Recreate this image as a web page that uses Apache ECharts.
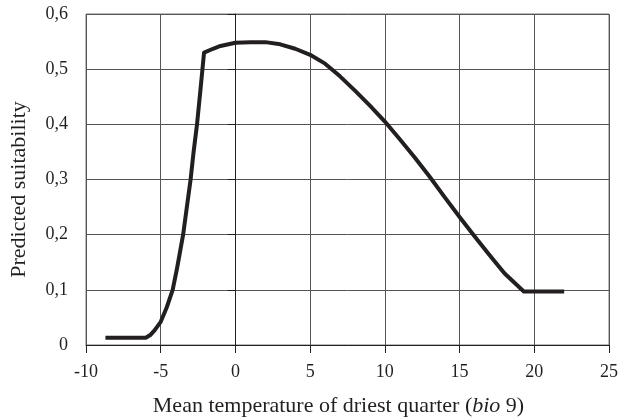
<!DOCTYPE html>
<html>
<head>
<meta charset="utf-8">
<script src="https://cdn.jsdelivr.net/npm/echarts@6/dist/echarts.min.js"></script>
<style>
  html, body { margin: 0; padding: 0; background: #fff; }
  #chart { width: 621px; height: 420px; }
</style>
</head>
<body>
<div id="chart"></div>
<script>
// temperature (x) and predicted suitability (y)
const temps = [-8.7, -6.0, -5.7, -5.4, -5.0, -4.6, -4.2, -3.9, -3.5, -3.25, -3.0, -2.8, -2.57, -2.35, -2.1,
  -1.5, -1, 0, 1, 2, 3, 4, 5, 6, 7, 8, 9, 10, 11, 12, 13, 14, 15, 16, 17, 18, 19.3, 22];
const suitability = [0.013, 0.013, 0.018, 0.027, 0.042, 0.068, 0.10, 0.14, 0.20, 0.25, 0.30, 0.35, 0.40, 0.46, 0.53,
  0.537, 0.542, 0.548, 0.549, 0.549, 0.545, 0.537, 0.526, 0.51, 0.487, 0.461, 0.434, 0.405, 0.373, 0.34, 0.305,
  0.268, 0.232, 0.197, 0.163, 0.13, 0.097, 0.097];

const chart = echarts.init(document.getElementById('chart'));
const font = 'Liberation Serif';

chart.setOption({
  animation: false,
  grid: {
    left: 86, right: 12, top: 14, bottom: 75,
    outerBoundsMode: 'none',
    containLabel: false,
    show: true, borderColor: '#777', borderWidth: 1
  },
  xAxis: {
    type: 'value',
    min: -10, max: 25, interval: 5,
    name: '{n|Mean temperature of driest quarter (}{i|bio}{n| 9)}',
    nameLocation: 'middle',
    nameGap: 50,
    nameTextStyle: {
      padding: [0, 18, 0, 0],
      rich: {
        n: { fontFamily: font, fontSize: 22, color: '#231f20' },
        i: { fontFamily: font, fontSize: 22, fontStyle: 'italic', color: '#231f20' }
      }
    },
    axisLine: { show: true, onZero: false, lineStyle: { color: '#231f20', width: 1 } },
    axisTick: { show: true, inside: false, length: 8, lineStyle: { color: '#231f20' } },
    axisLabel: { fontFamily: font, fontSize: 18, color: '#231f20', margin: 18 },
    splitLine: { show: true, lineStyle: { color: '#555', width: 1 } }
  },
  yAxis: {
    type: 'value',
    min: 0, max: 0.6, interval: 0.1,
    name: 'Predicted suitability',
    nameLocation: 'middle',
    nameGap: 56,
    nameTextStyle: { fontFamily: font, fontSize: 22, color: '#231f20', padding: [0, 20, 0, 0] },
    axisLine: { show: true, lineStyle: { color: '#231f20', width: 1 } },
    axisTick: { show: true, inside: false, length: 8, lineStyle: { color: '#231f20' } },
    axisLabel: {
      fontFamily: font, fontSize: 18, color: '#231f20', margin: 18,
      formatter: v => (Math.round(v * 10) / 10).toString().replace('.', ',')
    },
    splitLine: { show: true, lineStyle: { color: '#555', width: 1 } }
  },
  series: [{
    type: 'line',
    data: temps.map((t, i) => [t, suitability[i]]),
    showSymbol: false,
    lineStyle: { color: '#231f20', width: 4, cap: 'butt', join: 'round' }
  }]
});
</script>
</body>
</html>
